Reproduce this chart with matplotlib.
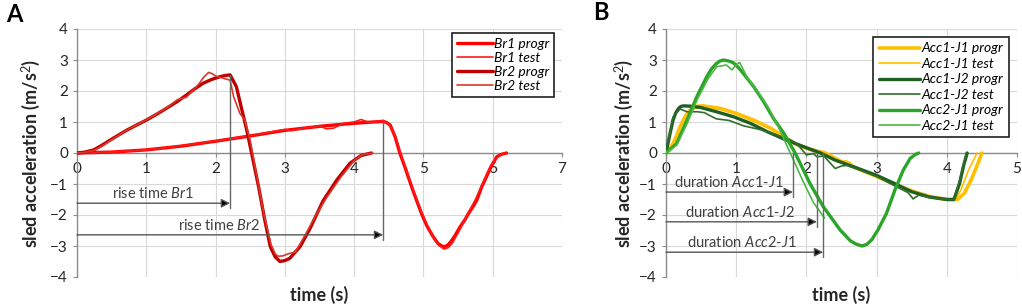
import matplotlib
matplotlib.use("Agg")
import matplotlib.pyplot as plt

plt.rcParams["font.family"] = ["Lato", "DejaVu Sans"]
plt.rcParams["mathtext.fontset"] = "custom"
plt.rcParams["mathtext.rm"] = "Lato"
plt.rcParams["mathtext.it"] = "Lato:italic"
plt.rcParams["lines.solid_joinstyle"] = "round"
plt.rcParams["lines.solid_capstyle"] = "round"

GRID = "#d9d9d9"
AXC = "#8c8c8c"
TXT = "#404040"

# ---- panel A : brake pulses ----
br1_t = [0, 0.5, 1, 1.5, 2, 2.5, 3, 3.5, 4, 4.2, 4.42, 4.47, 4.52, 4.59, 4.66, 4.74,
         4.83, 4.9, 4.97, 5.05, 5.14, 5.21, 5.28, 5.34, 5.4, 5.46, 5.53, 5.6, 5.65,
         5.71, 5.77, 5.84, 5.91, 5.98, 6.06, 6.13, 6.2]
br1_progr = [0, 0.03, 0.1, 0.22, 0.38, 0.55, 0.73, 0.86, 0.96, 0.99, 1.02, 0.98, 0.9,
             0.53, 0.0, -0.5, -1.09, -1.52, -1.94, -2.35, -2.7, -2.92, -3.02, -3.0,
             -2.85, -2.65, -2.38, -2.15, -1.95, -1.75, -1.52, -1.1, -0.76, -0.42, -0.12,
             -0.04, 0]
br1_test_t = [0, 0.5, 1, 1.5, 2, 2.5, 2.9, 3.0, 3.1, 3.3, 3.5, 3.6, 3.7, 3.85, 4.0, 4.1,
              4.2, 4.3, 4.42, 4.47, 4.52, 4.6, 4.67, 4.75, 4.83, 4.97, 5.06, 5.14, 5.22,
              5.3, 5.36, 5.42, 5.52, 5.63, 5.75, 5.88, 5.95, 6.02, 6.1, 6.2]
br1_test = [0, 0.03, 0.1, 0.23, 0.39, 0.56, 0.72, 0.76, 0.72, 0.82, 0.87, 0.78, 0.8, 0.96,
            1.0, 1.08, 1.0, 1.0, 1.05, 0.98, 0.88, 0.5, 0.0, -0.52, -1.05, -1.9, -2.35,
            -2.72, -2.98, -3.1, -3.05, -2.9, -2.5, -2.0, -1.5, -0.85, -0.5, -0.25, -0.08, 0]

br2_t = [0, 0.12, 0.24, 0.36, 0.48, 0.6, 0.72, 0.86, 1.0, 1.15, 1.29, 1.44, 1.58, 1.7,
         1.82, 1.94, 2.06, 2.14, 2.21, 2.3, 2.38, 2.45, 2.52, 2.62, 2.71, 2.79, 2.86,
         2.93, 3.0, 3.07, 3.22, 3.36, 3.55, 3.75, 3.94, 4.1, 4.25]
br2_progr = [0, 0.03, 0.1, 0.25, 0.42, 0.58, 0.74, 0.9, 1.06, 1.25, 1.44, 1.65, 1.87,
             2.07, 2.25, 2.37, 2.46, 2.5, 2.52, 2.14, 1.39, 0.74, 0.0, -1.08, -2.16,
             -3.02, -3.35, -3.5, -3.47, -3.4, -3.02, -2.45, -1.55, -0.87, -0.33, -0.08, 0]
br2_test_t = [0, 0.12, 0.24, 0.36, 0.48, 0.6, 0.72, 0.86, 1.0, 1.15, 1.29, 1.45, 1.58,
              1.75, 1.83, 1.9, 1.96, 2.0, 2.21, 2.26, 2.35, 2.42, 2.5, 2.6, 2.7, 2.8,
              2.86, 2.9, 2.97, 3.05, 3.15, 3.3, 3.45, 3.6, 3.8, 4.0, 4.12, 4.27]
br2_test = [0, 0.02, 0.08, 0.22, 0.4, 0.57, 0.74, 0.9, 1.07, 1.26, 1.45, 1.72, 1.8, 2.2,
            2.45, 2.6, 2.55, 2.48, 2.35, 1.82, 1.28, 1.07, 0.4, -0.8, -2.0, -2.95, -3.25,
            -3.33, -3.32, -3.25, -3.2, -2.62, -2.0, -1.45, -0.8, -0.25, -0.05, 0]

rise_br1 = 2.21
rise_br2 = 4.42

# ---- panel B : acceleration pulses ----
a11_t = [0, 0.05, 0.1, 0.15, 0.2, 0.25, 0.3, 0.35, 0.39, 0.45, 0.53, 0.77, 1.0, 1.25,
         1.49, 1.72, 1.87, 2.05, 2.27, 2.5, 2.75, 3.0, 3.25, 3.5, 3.75, 4.0, 4.15, 4.25,
         4.35, 4.45, 4.5]
a11_progr = [0, 0.12, 0.3, 0.55, 0.84, 1.08, 1.27, 1.4, 1.47, 1.51, 1.52, 1.44, 1.28,
             1.06, 0.8, 0.47, 0.26, 0.12, 0.0, -0.28, -0.52, -0.76, -1.0, -1.22, -1.4,
             -1.5, -1.5, -1.3, -0.85, -0.3, 0]
a11_test_t = [0, 0.1, 0.2, 0.3, 0.4, 0.55, 0.8, 1.0, 1.25, 1.5, 1.72, 1.9, 2.1, 2.25,
              2.45, 2.55, 2.62, 2.7, 3.0, 3.25, 3.5, 3.6, 3.75, 4.0, 4.12, 4.2, 4.3, 4.43]
a11_test = [0, 0.28, 0.8, 1.22, 1.43, 1.48, 1.4, 1.25, 1.02, 0.76, 0.45, 0.2, 0.05, -0.02,
            -0.3, -0.25, -0.3, -0.5, -0.76, -1.0, -1.25, -1.35, -1.42, -1.5, -1.5, -1.2,
            -0.6, 0]

a12_t = [0, 0.05, 0.1, 0.14, 0.18, 0.21, 0.25, 0.35, 0.49, 0.72, 0.96, 1.2, 1.44, 1.68,
         1.85, 2.0, 2.2, 2.4, 2.7, 3.0, 3.25, 3.5, 3.75, 4.0, 4.1, 4.18, 4.24, 4.29]
a12_progr = [0, 0.55, 1.06, 1.3, 1.44, 1.5, 1.52, 1.51, 1.47, 1.33, 1.17, 0.96, 0.69,
             0.45, 0.3, 0.17, 0.0, -0.22, -0.47, -0.72, -0.98, -1.25, -1.42, -1.5, -1.5,
             -1.0, -0.4, 0]
a12_test_t = [0, 0.1, 0.2, 0.3, 0.45, 0.55, 0.63, 0.72, 0.9, 1.1, 1.35, 1.58, 1.75, 1.86,
              2.0, 2.1, 2.15, 2.25, 2.41, 2.5, 2.57, 2.7, 3.0, 3.25, 3.45, 3.52, 3.6,
              3.8, 4.0, 4.1, 4.18, 4.28]
a12_test = [0, 1.16, 1.42, 1.33, 1.33, 1.3, 1.2, 1.1, 1.05, 0.88, 0.75, 0.58, 0.45, 0.31,
            -0.06, -0.02, -0.12, -0.1, -0.5, -0.42, -0.4, -0.5, -0.76, -1.05, -1.28,
            -1.48, -1.36, -1.45, -1.5, -1.5, -0.9, 0]

a21_t = [0, 0.15, 0.3, 0.44, 0.58, 0.65, 0.72, 0.77, 0.82, 0.89, 0.96, 1.03, 1.1, 1.25,
         1.39, 1.53, 1.68, 1.84, 2.05, 2.24, 2.48, 2.62, 2.7, 2.79, 2.86, 2.93, 3.02,
         3.14, 3.26, 3.38, 3.48, 3.55, 3.6]
a21_progr = [0, 0.3, 1.06, 1.82, 2.46, 2.72, 2.89, 2.97, 3.0, 2.97, 2.91, 2.76, 2.57,
             2.14, 1.66, 1.12, 0.63, 0.0, -0.98, -1.73, -2.48, -2.82, -2.93, -3.0, -2.95,
             -2.8, -2.48, -1.95, -1.2, -0.55, -0.17, -0.05, 0]
a21_test_t = [0, 0.15, 0.3, 0.45, 0.6, 0.72, 0.86, 0.94, 1.0, 1.05, 1.15, 1.3, 1.45, 1.6,
              1.77, 1.95, 2.1, 2.26]
a21_test = [0, 0.25, 0.95, 1.75, 2.4, 2.78, 2.84, 2.68, 2.85, 2.92, 2.46, 2.0, 1.5, 0.85,
            0.0, -0.9, -1.6, -2.1]

dur_a11 = 1.81
dur_a12 = 2.15
dur_a21 = 2.24

fig = plt.figure(figsize=(10.22, 3.06), dpi=100)
axA = fig.add_axes([77 / 1022, 1 - 277 / 306, 485 / 1022, 248 / 306])
axB = fig.add_axes([666 / 1022, 1 - 277 / 306, 351 / 1022, 248 / 306])


def style_axes(ax, xmax, ylab_x):
    ax.set_xlim(0, xmax)
    ax.set_ylim(-4, 4)
    ax.set_xticks(range(0, xmax + 1))
    ax.set_yticks(range(-4, 5))
    ax.grid(True, color=GRID, linewidth=0.8)
    ax.set_axisbelow(True)
    for s in ["top", "right"]:
        ax.spines[s].set_visible(False)
    ax.spines["left"].set_color(AXC)
    ax.spines["bottom"].set_color(AXC)
    ax.spines["left"].set_linewidth(1.0)
    ax.spines["bottom"].set_linewidth(1.0)
    ax.spines["bottom"].set_position(("data", 0))
    ax.spines["bottom"].set_zorder(1)
    ax.tick_params(axis="both", colors=AXC, labelcolor="#262626", labelsize=11, length=3)
    ax.set_xlabel("time (s)", fontsize=13, fontweight="bold", color="#262626")
    ax.xaxis.set_label_coords(0.5, -0.035)
    ax.set_ylabel("sled acceleration (m/s$^2$)", fontsize=13, fontweight="bold", color="#262626")
    ax.yaxis.set_label_coords(ylab_x, 0.5)


def arrow(ax, x, y, label, ytext, xtext):
    ax.annotate("", xy=(x, y), xytext=(0, y),
                arrowprops=dict(arrowstyle="-|>", mutation_scale=13, lw=1.0,
                                ec="#555555", fc="black", shrinkA=0, shrinkB=0))
    ax.text(xtext, ytext, label, fontsize=10.5, color=TXT, ha="center", va="bottom")


# panel A
style_axes(axA, 7, -0.072)
axA.plot(br1_t, br1_progr, color="#ff0000", lw=2.4, label="Br1 progr", zorder=3)
axA.plot(br1_test_t, br1_test, color="#ff1a1a", lw=1.2, label="Br1 test", zorder=3)
axA.plot(br2_t, br2_progr, color="#c00000", lw=2.4, label="Br2 progr", zorder=3)
axA.plot(br2_test_t, br2_test, color="#d9382a", lw=1.2, label="Br2 test", zorder=3)
axA.plot([rise_br1, rise_br1], [2.52, -1.78], color="#666666", lw=1.0, zorder=4)
axA.plot([rise_br2, rise_br2], [1.02, -2.82], color="#666666", lw=1.0, zorder=4)
arrow(axA, rise_br1, -1.62, r"rise time $Br1$", -1.55, 1.1)
arrow(axA, rise_br2, -2.64, r"rise time $Br2$", -2.57, 2.05)
legA = axA.legend(loc="upper right", bbox_to_anchor=(0.984, 0.985), fancybox=False,
                  edgecolor="#202020", framealpha=1, prop=dict(style="italic", size=10),
                  handlelength=2.6, handletextpad=0.1, labelspacing=0.15,
                  borderpad=0.35, borderaxespad=0)
legA.get_frame().set_linewidth(1.2)

# panel B
style_axes(axB, 5, -0.088)
axB.plot(a11_t, a11_progr, color="#ffc000", lw=2.6, label="Acc1-J1 progr", zorder=3)
axB.plot(a11_test_t, a11_test, color="#ffc000", lw=1.2, label="Acc1-J1 test", zorder=3)
axB.plot(a12_t, a12_progr, color="#1f5f22", lw=2.4, label="Acc1-J2 progr", zorder=3)
axB.plot(a12_test_t, a12_test, color="#2f6e2c", lw=1.2, label="Acc1-J2 test", zorder=3)
axB.plot(a21_t, a21_progr, color="#2aa52a", lw=2.4, label="Acc2-J1 progr", zorder=3)
axB.plot(a21_test_t, a21_test, color="#4cb843", lw=1.2, label="Acc2-J1 test", zorder=3)
axB.plot([dur_a11, dur_a11], [0, -1.42], color="#666666", lw=1.0, zorder=4)
axB.plot([dur_a12, dur_a12], [0, -2.38], color="#666666", lw=1.0, zorder=4)
axB.plot([dur_a21, dur_a21], [0, -3.36], color="#666666", lw=1.0, zorder=4)
arrow(axB, dur_a11, -1.26, r"duration $Acc1$-$J1$", -1.2, 0.9)
arrow(axB, dur_a12, -2.22, r"duration $Acc1$-$J2$", -2.16, 1.05)
arrow(axB, dur_a21, -3.2, r"duration $Acc2$-$J1$", -3.14, 1.08)
legB = axB.legend(loc="upper right", bbox_to_anchor=(0.977, 0.968), fancybox=False,
                  edgecolor="#202020", framealpha=1, prop=dict(style="italic", size=10),
                  handlelength=3.0, handletextpad=0.1, labelspacing=0.25,
                  borderpad=0.4, borderaxespad=0)
legB.get_frame().set_linewidth(1.2)

fig.text(14 / 1022, 1 - 15 / 306, "A", fontsize=17, fontweight="bold", ha="center", va="center")
fig.text(601 / 1022, 1 - 13 / 306, "B", fontsize=17, fontweight="bold", ha="center", va="center")

fig.savefig("out.png", dpi=100)
